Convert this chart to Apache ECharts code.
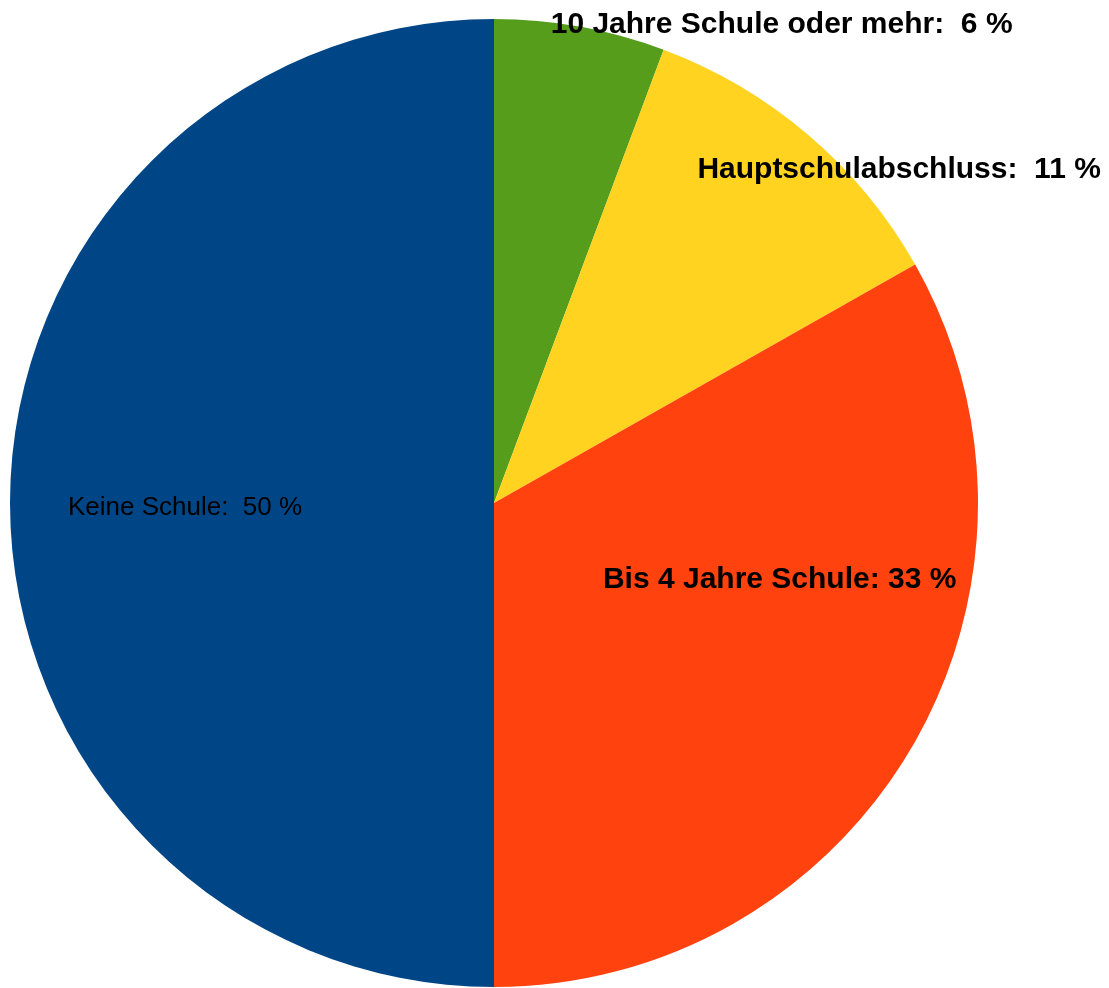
<!DOCTYPE html>
<html>
<head>
<meta charset="utf-8">
<script src="https://cdn.jsdelivr.net/npm/echarts@6/dist/echarts.min.js"></script>
<style>html,body{margin:0;padding:0;background:#fff}#c{width:1109px;height:988px}</style>
</head>
<body>
<div id="c"></div>
<script>
const categories = ["10 Jahre Schule oder mehr", "Hauptschulabschluss", "Bis 4 Jahre Schule", "Keine Schule"];
const values = [5.7, 11.1, 33.2, 50];
const labelTexts = ["10 Jahre Schule oder mehr:  6 %", "Hauptschulabschluss:  11 %", "Bis 4 Jahre Schule: 33 %", "Keine Schule:  50 %"];
const colors = ["#579d1c", "#ffd320", "#ff420e", "#004586"];

const labelOffsets = [[244, -237], [246, -147], [74, -47], [-64, 5]];
const labelBold = [true, true, true, false];

const chart = echarts.init(document.getElementById('c'));
chart.setOption({
  animation: false,
  series: [{
    type: 'pie',
    center: [494, 503],
    radius: 484,
    startAngle: 90,
    clockwise: true,
    silent: true,
    labelLine: { show: false },
    data: categories.map((name, i) => ({
      name: name,
      value: values[i],
      itemStyle: { color: colors[i] },
      label: {
        show: true,
        position: 'inside',
        formatter: labelTexts[i],
        offset: labelOffsets[i],
        color: '#000',
        fontFamily: 'Liberation Sans, Arial, sans-serif',
        fontSize: labelBold[i] ? 30 : 26,
        fontWeight: labelBold[i] ? 'bold' : 'normal'
      }
    }))
  }]
});
</script>
</body>
</html>
